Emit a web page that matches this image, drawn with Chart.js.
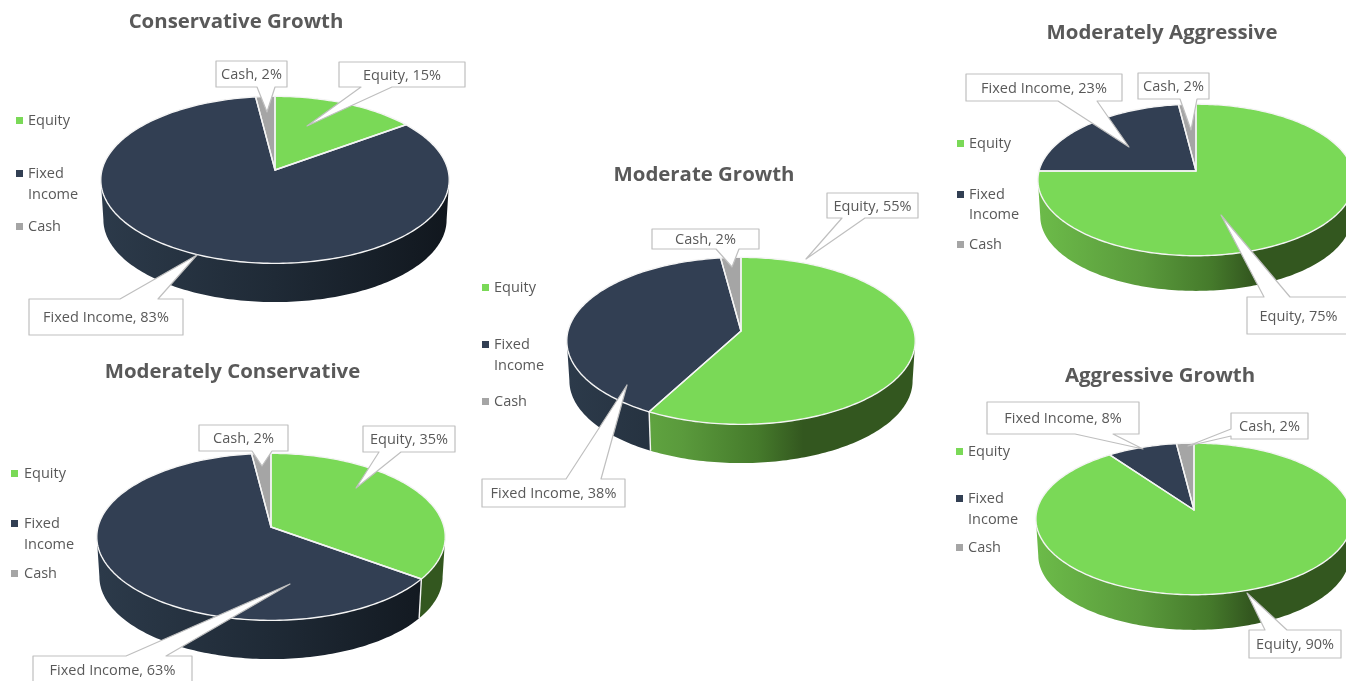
<!DOCTYPE html>
<html>
<head>
<meta charset="utf-8">
<title>Portfolio allocation</title>
<script src="https://cdn.jsdelivr.net/npm/chart.js@4"></script>
<style>
    html, body { margin: 0; padding: 0; background: #fff; }
    #stage { position: relative; width: 1346px; height: 681px; overflow: hidden; }
    #stage canvas { position: absolute; }
</style>
</head>
<body>
<div id="stage"></div>
<script>
// ====================================================== data ========================================================
const categories = ['Equity', 'Fixed Income', 'Cash'];
const legendLines = [['Equity'], ['Fixed', 'Income'], ['Cash']];

const chartTitles = ['Conservative Growth', 'Moderately Conservative', 'Moderate Growth', 'Moderately Aggressive', 'Aggressive Growth'];

const conservativeGrowth = [15, 83, 2];
const moderatelyConservative = [35, 63, 2];
const moderateGrowth = [55, 38, 2];
const moderatelyAggressive = [75, 23, 2];
const aggressiveGrowth = [90, 8, 2];
const allocations = [conservativeGrowth, moderatelyConservative, moderateGrowth, moderatelyAggressive, aggressiveGrowth];

// ====================================================== colours =====================================================
const sliceColors = ['#7ad957', '#323f53', '#a5a5a5'];
const wallStops = [
    [[0, '#6cbb49'], [0.33, '#5a9a3c'], [0.55, '#457a2b'], [0.68, '#33571f'], [1, '#33571f']],
    [[0, '#2c3a4a'], [0.5, '#1f2a36'], [1, '#11171e']],
    [[0, '#8a8a8a'], [1, '#5a5a5a']]
];
const textColor = '#595959';
const calloutBorder = '#bfbfbf';
const fontFamily = '"Open Sans", sans-serif';
const labelFont = '14.5px ' + fontFamily;

// ====================================================== layout ======================================================
// page position of each canvas: [left, top, width, height]
const canvasBoxes = [
    [0, 0, 550, 345],
    [0, 345, 542, 345],
    [462, 150, 558, 380],
    [950, 0, 492, 345],
    [950, 350, 488, 331]
];
const pieCentersY = [170, 527, 331, 171, 510];
const pieRadii = [173, 173, 173, 157, 157];
const titleCentersX = [236, 232.5, 704, 1162, 1160];
const titleCentersY = [22, 372, 175, 33, 376];

// legend: marker left edge, text left edge, y of each text line
const legendMarkerX = [16, 11, 482, 957, 956];
const legendTextX = [28, 24, 494, 969, 968];
const legendLineY = [
    [[121], [174, 195], [227]],
    [[474], [524, 545], [574]],
    [[288], [345, 366], [402]],
    [[144], [195, 215], [245]],
    [[452], [499, 520], [548]]
];

// callouts in category order: box [x, y, w, h], edge the tail leaves from, tail base, tail tip
const calloutSpots = [
    [
        { box: [339, 62, 126, 25], edge: 'bottom', base: [361, 392], tip: [307, 126] },
        { box: [29, 299, 154, 36], edge: 'top', base: [120, 158], tip: [197, 255] },
        { box: [216, 61, 71, 26], edge: 'bottom', base: [257, 275], tip: [267, 112] }
    ],
    [
        { box: [363, 426, 92, 26], edge: 'bottom', base: [379, 401], tip: [356, 488] },
        { box: [33, 656, 159, 28], edge: 'top', base: [126, 166], tip: [290, 584] },
        { box: [199, 425, 89, 26], edge: 'bottom', base: [252, 272], tip: [262, 466] }
    ],
    [
        { box: [827, 193, 91, 25], edge: 'bottom', base: [842, 865], tip: [806, 259] },
        { box: [482, 479, 143, 28], edge: 'top', base: [566, 601], tip: [627, 385] },
        { box: [652, 229, 107, 20], edge: 'bottom', base: [716, 739], tip: [732, 267] }
    ],
    [
        { box: [1247, 297, 103, 37], edge: 'top', base: [1264, 1290], tip: [1221, 215] },
        { box: [966, 74, 156, 27], edge: 'bottom', base: [1058, 1097], tip: [1129, 147] },
        { box: [1138, 73, 71, 26], edge: 'bottom', base: [1180, 1197], tip: [1191, 130] }
    ],
    [
        { box: [1249, 630, 92, 28], edge: 'top', base: [1265, 1287], tip: [1247, 593] },
        { box: [987, 402, 152, 32], edge: 'bottom', base: [1075, 1113], tip: [1143, 449] },
        { box: [1231, 413, 77, 26], edge: 'left', base: [429, 436], tip: [1188, 446] }
    ]
];

// tilt of the pie plane
const PERSPECTIVE = 0.118;
const SQUASH = 0.476;
const DEPTH = 0.232;
const BASE_SCALE = 0.985;

// ====================================================== drawing =====================================================
// point on the rim of the arc, depth 0 is the top face and 1 the bottom rim
function rimPoint(arc, angle, depth) {
    let u = Math.cos(angle);
    let v = Math.sin(angle);
    let r = arc.outerRadius * (depth ? BASE_SCALE : 1);
    let w = 1 - PERSPECTIVE * v;
    return {
        x: arc.x + r * u / w,
        y: arc.y + depth * arc.outerRadius * DEPTH + r * SQUASH * v / w
    };
}

function traceRim(ctx, arc, from, to, depth) {
    let steps = Math.max(2, Math.ceil(Math.abs(to - from) / 0.02));
    for (let i = 0; i <= steps; i++) {
        let p = rimPoint(arc, from + (to - from) * i / steps, depth);
        ctx.lineTo(p.x, p.y);
    }
}

function drawWalls(ctx, arcs) {
    // only the part of the rim turned towards the viewer
    let frontStart = Math.asin(PERSPECTIVE);
    let frontEnd = Math.PI - frontStart;

    arcs.forEach((arc, index) => {
        let from = Math.max(arc.startAngle, frontStart);
        let to = Math.min(arc.endAngle, frontEnd);
        if (from >= to) {
            return;
        }
        let shade = ctx.createLinearGradient(arc.x - arc.outerRadius, 0, arc.x + arc.outerRadius, 0);
        wallStops[index].forEach(stop => shade.addColorStop(stop[0], stop[1]));

        ctx.beginPath();
        traceRim(ctx, arc, from, to, 0);
        traceRim(ctx, arc, to, from, 1);
        ctx.closePath();
        ctx.fillStyle = shade;
        ctx.fill();
    });

    // white seam where two slices meet on the wall
    arcs.forEach(arc => {
        if (arc.endAngle > frontStart && arc.endAngle < frontEnd) {
            let top = rimPoint(arc, arc.endAngle, 0);
            let bottom = rimPoint(arc, arc.endAngle, 1);
            ctx.beginPath();
            ctx.moveTo(top.x, top.y);
            ctx.lineTo(bottom.x, bottom.y);
            ctx.strokeStyle = arc.options.borderColor;
            ctx.lineWidth = arc.options.borderWidth;
            ctx.stroke();
        }
    });
}

function drawTopFaces(ctx, arcs) {
    arcs.forEach(arc => {
        ctx.beginPath();
        ctx.moveTo(arc.x, arc.y);
        traceRim(ctx, arc, arc.startAngle, arc.endAngle, 0);
        ctx.closePath();
        ctx.fillStyle = arc.options.backgroundColor;
        ctx.fill();
    });
    arcs.forEach(arc => {
        ctx.beginPath();
        ctx.moveTo(arc.x, arc.y);
        traceRim(ctx, arc, arc.startAngle, arc.endAngle, 0);
        ctx.closePath();
        ctx.lineJoin = 'round';
        ctx.strokeStyle = arc.options.borderColor;
        ctx.lineWidth = arc.options.borderWidth;
        ctx.stroke();
    });
}

function drawLegend(ctx, index) {
    ctx.font = labelFont;
    ctx.textAlign = 'left';
    ctx.textBaseline = 'middle';
    legendLines.forEach((lines, item) => {
        let ys = legendLineY[index][item];
        ctx.fillStyle = sliceColors[item];
        ctx.fillRect(legendMarkerX[index], ys[0] - 4, 7, 7);
        ctx.fillStyle = textColor;
        lines.forEach((line, l) => ctx.fillText(line, legendTextX[index], ys[l]));
    });
}

function drawCallout(ctx, spot, text) {
    let [x, y, w, h] = spot.box;
    let [a, b] = spot.base;
    let tip = spot.tip;

    ctx.beginPath();
    ctx.moveTo(x, y);
    if (spot.edge === 'top') {
        ctx.lineTo(a, y);
        ctx.lineTo(tip[0], tip[1]);
        ctx.lineTo(b, y);
    }
    ctx.lineTo(x + w, y);
    ctx.lineTo(x + w, y + h);
    if (spot.edge === 'bottom') {
        ctx.lineTo(b, y + h);
        ctx.lineTo(tip[0], tip[1]);
        ctx.lineTo(a, y + h);
    }
    ctx.lineTo(x, y + h);
    if (spot.edge === 'left') {
        ctx.lineTo(x, b);
        ctx.lineTo(tip[0], tip[1]);
        ctx.lineTo(x, a);
    }
    ctx.closePath();
    ctx.fillStyle = '#ffffff';
    ctx.fill();
    ctx.strokeStyle = calloutBorder;
    ctx.lineWidth = 1.2;
    ctx.stroke();

    ctx.font = labelFont;
    ctx.textAlign = 'center';
    ctx.textBaseline = 'middle';
    ctx.fillStyle = textColor;
    ctx.fillText(text, x + w / 2, y + h / 2 + 1);
}

// pie plugin: the library works out each slice's angles, this draws them tilted with a wall
const tiltedPie = {
    id: 'tiltedPie',
    afterLayout(chart) {
        // the title sits off the pie's centre line
        let shift = chart.options.titleShift;
        chart.titleBlock.left += shift;
        chart.titleBlock.right += shift;
    },
    beforeDatasetDraw(chart, args) {
        let arcs = args.meta.data;
        drawWalls(chart.ctx, arcs);
        drawTopFaces(chart.ctx, arcs);
        return false;
    },
    afterDatasetsDraw(chart) {
        let ctx = chart.ctx;
        let index = chart.options.panelIndex;
        let left = canvasBoxes[index][0];
        let top = canvasBoxes[index][1];
        ctx.save();
        ctx.translate(-left, -top);
        drawLegend(ctx, index);
        calloutSpots[index].forEach((spot, i) => {
            drawCallout(ctx, spot, categories[i] + ', ' + allocations[index][i] + '%');
        });
        ctx.restore();
    }
};

// ====================================================== charts ======================================================
const stage = document.getElementById('stage');

allocations.forEach((values, index) => {
    let [left, top, width, height] = canvasBoxes[index];
    let canvas = document.createElement('canvas');
    canvas.width = width;
    canvas.height = height;
    canvas.style.left = left + 'px';
    canvas.style.top = top + 'px';
    stage.appendChild(canvas);

    let titleHeight = 24;
    let titleTop = titleCentersY[index] - top - titleHeight / 2;
    let titleBottom = titleTop + titleHeight;
    let centerX = left + width / 2;

    new Chart(canvas, {
        type: 'pie',
        data: {
            labels: categories,
            datasets: [{
                data: values,
                backgroundColor: sliceColors,
                borderColor: '#f4f4f4',
                borderWidth: 1.4,
                radius: pieRadii[index]
            }]
        },
        plugins: [tiltedPie],
        options: {
            responsive: false,
            animation: false,
            panelIndex: index,
            titleShift: titleCentersX[index] - centerX,
            layout: {
                padding: { bottom: height - 2 * (pieCentersY[index] - top) + titleBottom }
            },
            plugins: {
                legend: { display: false },
                tooltip: { enabled: false },
                title: {
                    display: true,
                    text: chartTitles[index],
                    color: textColor,
                    font: { family: fontFamily, size: 20.4, weight: 'bold', lineHeight: 24 / 20.4 },
                    padding: { top: titleTop, bottom: 0 }
                }
            }
        }
    });
});
</script>
</body>
</html>
